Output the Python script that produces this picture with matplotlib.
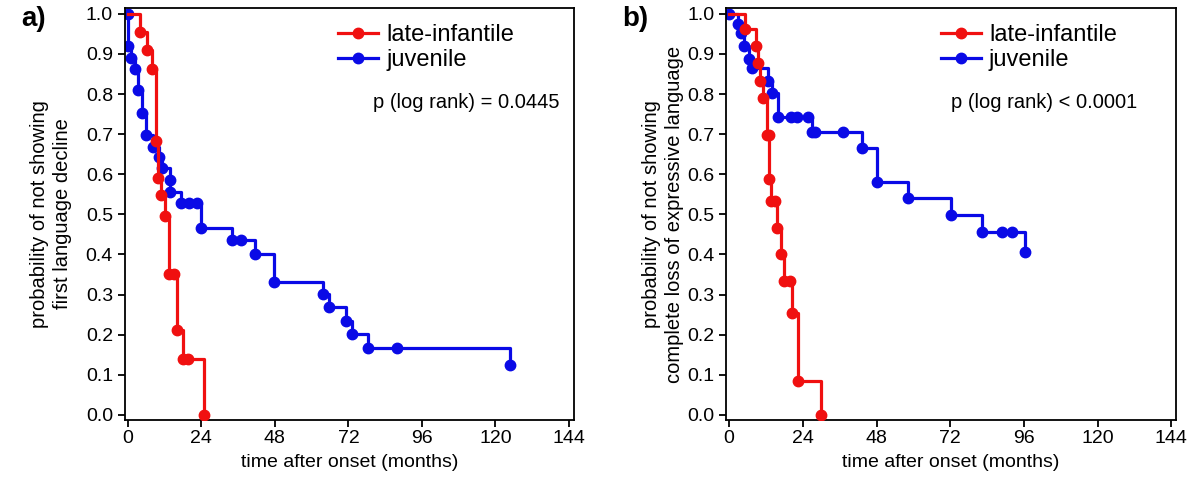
import matplotlib.pyplot as plt

plt.rcParams['font.family'] = ['Liberation Sans', 'DejaVu Sans']

# panel a) first language decline
a_li_t = [0, 3.9, 6.4, 7.9, 9.3, 9.9, 10.8, 12.2, 13.3, 15.2, 16.0, 17.9, 19.6, 24.9]
a_li_s = [1.0, 0.954, 0.910, 0.863, 0.682, 0.590, 0.549, 0.496, 0.352, 0.352, 0.212, 0.140, 0.140, 0.0]
a_ju_t = [0, 0.1, 1.0, 2.3, 3.4, 4.5, 5.8, 8.2, 10.2, 11.0, 13.7, 13.7, 17.5, 20.0, 22.7,
          23.8, 34.0, 37.0, 41.6, 47.7, 63.6, 65.6, 71.2, 73.1, 78.5, 88.0, 124.8]
a_ju_s = [1.0, 0.920, 0.891, 0.862, 0.809, 0.752, 0.698, 0.667, 0.643, 0.615, 0.586, 0.557, 0.529, 0.529, 0.529,
          0.465, 0.436, 0.436, 0.401, 0.332, 0.302, 0.268, 0.235, 0.201, 0.166, 0.166, 0.125]

# panel b) complete loss of expressive language
b_li_t = [0, 5.2, 8.9, 9.3, 10.1, 11.2, 12.3, 13.0, 13.1, 13.8, 15.0, 15.5, 17.0, 18.0, 19.7, 20.5, 22.3, 29.9]
b_li_s = [1.0, 0.963, 0.920, 0.878, 0.833, 0.789, 0.698, 0.698, 0.588, 0.534, 0.534, 0.466, 0.401, 0.335, 0.335,
          0.254, 0.085, 0.0]
b_ju_t = [0, 2.9, 4.0, 4.9, 6.5, 7.6, 12.6, 14.0, 16.0, 20.2, 22.2, 25.7, 27.0, 28.1, 37.2,
          43.3, 48.0, 58.4, 72.3, 82.2, 89.0, 92.0, 96.4]
b_ju_s = [1.0, 0.974, 0.953, 0.920, 0.888, 0.864, 0.833, 0.802, 0.744, 0.744, 0.744, 0.744, 0.706, 0.706, 0.706,
          0.665, 0.581, 0.540, 0.498, 0.457, 0.457, 0.457, 0.407]

x_ticks = [0, 24, 48, 72, 96, 120, 144]
y_ticks = [0.0, 0.1, 0.2, 0.3, 0.4, 0.5, 0.6, 0.7, 0.8, 0.9, 1.0]

red = '#f01010'
blue = '#0a0ae6'

fig = plt.figure(figsize=(12, 4.93), dpi=100)
ax1 = fig.add_axes([0.104, 0.148, 0.374, 0.836])
ax2 = fig.add_axes([0.605, 0.148, 0.375, 0.836])


def panel(ax, li_t, li_s, ju_t, ju_s, ylabel, ptext, letter, px, leg_x, ypad):
    ax.plot(li_t, li_s, drawstyle='steps-post', color=red, lw=2.3, zorder=3)
    ax.plot(li_t[1:], li_s[1:], 'o', color=red, ms=7.5, zorder=3)
    ax.plot(ju_t, ju_s, drawstyle='steps-post', color=blue, lw=2.3, zorder=2)
    ax.plot(ju_t, ju_s, 'o', color=blue, ms=7.5, zorder=2)
    # legend handles
    ax.plot([], [], '-o', color=red, lw=2.3, ms=7.5, label='late-infantile')
    ax.plot([], [], '-o', color=blue, lw=2.3, ms=7.5, label='juvenile')
    ax.legend(loc='upper left', bbox_to_anchor=(leg_x, 1.0), frameon=False, fontsize=17,
              handlelength=1.7, handletextpad=0.35, labelspacing=0.12, borderaxespad=0.3)
    ax.text(px, 0.77, ptext, transform=ax.transAxes, fontsize=14.5, va='center')
    ax.set_xlim(-1, 145.5)
    ax.set_ylim(-0.013, 1.015)
    ax.set_xticks(x_ticks)
    ax.set_yticks(y_ticks)
    ax.set_yticklabels(['%.1f' % v for v in y_ticks])
    ax.tick_params(labelsize=14, length=5, width=1.3, direction='out')
    ax.tick_params(axis='x', pad=2)
    for s in ax.spines.values():
        s.set_linewidth(1.3)
    ax.set_xlabel('time after onset (months)', fontsize=14, labelpad=5)
    ax.set_ylabel(ylabel, fontsize=14.5, labelpad=ypad, linespacing=1.25)
    ax.text(-0.23, 0.972, letter, transform=ax.transAxes, fontsize=20, fontweight='bold',
            ha='left', va='center')


panel(ax1, a_li_t, a_li_s, a_ju_t, a_ju_s,
      'probability of not showing\nfirst language decline', 'p (log rank) = 0.0445', 'a)',
      0.552, 0.438, 10)
panel(ax2, b_li_t, b_li_s, b_ju_t, b_ju_s,
      'probability of not showing\ncomplete loss of expressive language', 'p (log rank) < 0.0001', 'b)',
      0.50, 0.44, 2)

fig.savefig('out.png', dpi=100)
